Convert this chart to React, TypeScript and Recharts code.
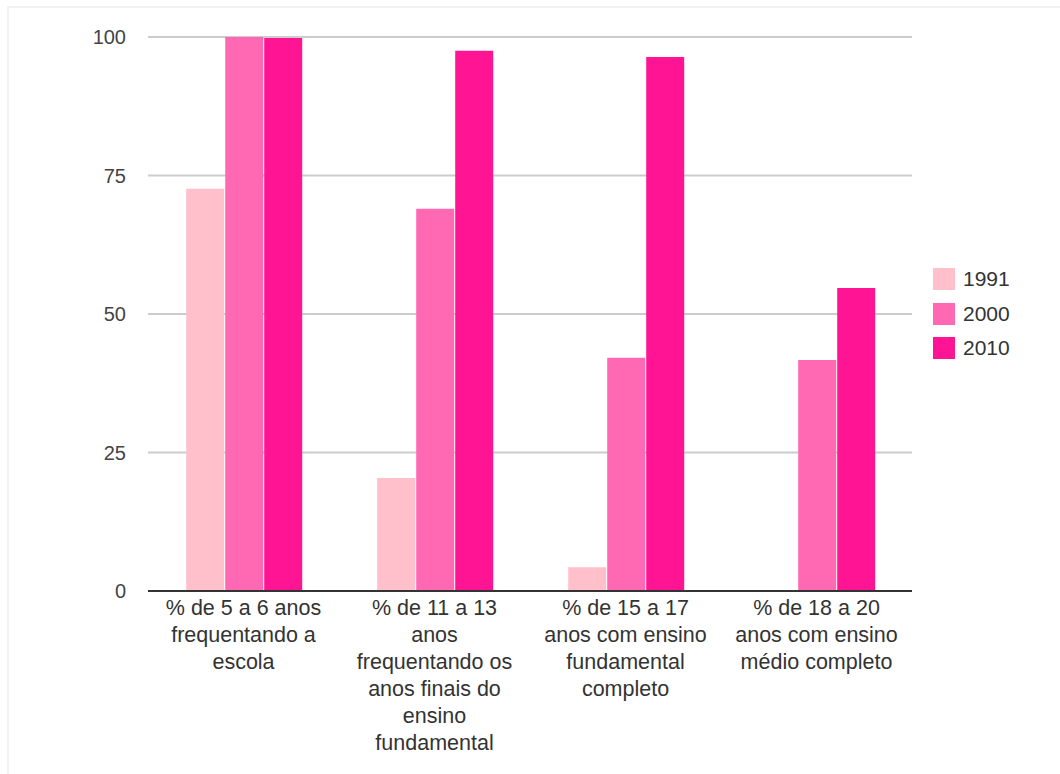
import React from 'react';
import { BarChart, Bar, XAxis, YAxis, CartesianGrid, Legend } from 'recharts';

const categories = [
  '% de 5 a 6 anos|frequentando a|escola',
  '% de 11 a 13|anos|frequentando os|anos finais do|ensino|fundamental',
  '% de 15 a 17|anos com ensino|fundamental|completo',
  '% de 18 a 20|anos com ensino|médio completo',
];
const years = ['1991', '2000', '2010'];
const v1991 = [72.6, 20.4, 4.3, 0];
const v2000 = [100, 69.0, 42.1, 41.7];
const v2010 = [99.8, 97.5, 96.4, 54.7];
const colors = ['#ffc0cb', '#ff69b4', '#ff1493'];
const yTicks = [0, 25, 50, 75, 100];

const data = categories.map((c, i) => ({
  name: c,
  y1991: v1991[i],
  y2000: v2000[i],
  y2010: v2010[i],
}));

const FONT = 'Arial, "Liberation Sans", sans-serif';

const CategoryTick = (props: any) => {
  const { x, y, payload } = props;
  const lines = String(payload.value).split('|');
  return (
    <g transform={`translate(${x},${y})`}>
      {lines.map((l, i) => (
        <text
          key={i}
          x={0}
          y={i * 27}
          dy={12}
          textAnchor="middle"
          fill="#333"
          fontSize={21.5}
          fontFamily={FONT}
        >
          {l}
        </text>
      ))}
    </g>
  );
};

const LegendBox = () => (
  <div style={{ fontFamily: FONT, fontSize: 21, color: '#333' }}>
    {years.map((yr, i) => (
      <div key={yr} style={{ display: 'flex', alignItems: 'center', height: 34.5 }}>
        <span
          style={{
            display: 'inline-block',
            width: 22,
            height: 22,
            background: colors[i],
            marginRight: 8,
          }}
        />
        <span>{yr}</span>
      </div>
    ))}
  </div>
);

export default function App() {
  return (
    <div style={{ position: 'absolute', left: 0, top: 0, width: 1060, height: 774, background: '#fff' }}>
      <div
        style={{
          position: 'absolute',
          left: 7,
          top: 6,
          right: 0,
          bottom: 0,
          borderTop: '2px solid #f2f2f2',
          borderLeft: '2px solid #f2f2f2',
        }}
      />
      <BarChart
        width={1060}
        height={774}
        data={data}
        margin={{ top: 37, right: 48, left: 0, bottom: 13 }}
        barCategoryGap="20%"
        barGap={1}
        style={{ position: 'absolute', left: 0, top: 0 }}
      >
        <CartesianGrid vertical={false} stroke="#cccccc" strokeWidth={2} />
        <XAxis
          dataKey="name"
          height={170}
          tick={<CategoryTick />}
          tickLine={false}
          axisLine={{ stroke: '#333', strokeWidth: 2 }}
          interval={0}
          tickMargin={6}
        />
        <YAxis
          width={148}
          domain={[0, 100]}
          ticks={yTicks}
          tickLine={false}
          axisLine={false}
          tickSize={0}
          tickMargin={22}
          tick={{ fill: '#444', fontSize: 20, fontFamily: FONT }}
        />
        <Legend
          layout="vertical"
          align="right"
          verticalAlign="middle"
          content={<LegendBox />}
          wrapperStyle={{ position: 'absolute', left: 933, top: 262, width: 100 }}
        />
        <Bar dataKey="y1991" name="1991" fill={colors[0]} isAnimationActive={false} />
        <Bar dataKey="y2000" name="2000" fill={colors[1]} isAnimationActive={false} />
        <Bar dataKey="y2010" name="2010" fill={colors[2]} isAnimationActive={false} />
      </BarChart>
    </div>
  );
}
